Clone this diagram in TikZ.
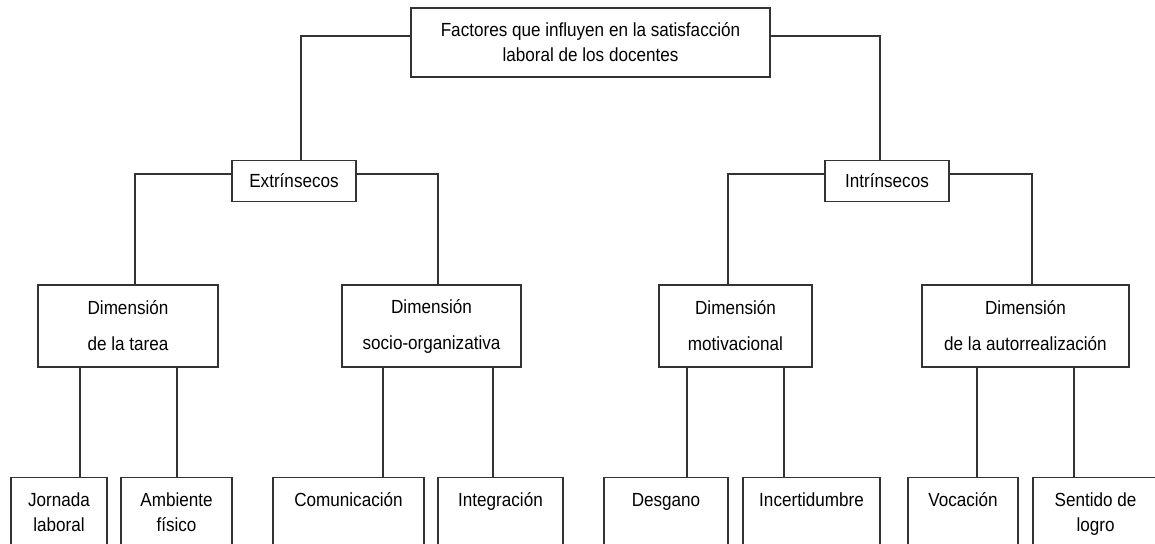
\documentclass[tikz,border=0pt]{standalone}
\usepackage{fontspec}
\setmainfont{Liberation Sans}[FakeStretch=0.9]
\usetikzlibrary{calc}

\tikzset{
	caja/.style={draw=black!80, line width=1.2pt, align=center, inner sep=0pt, font=\fontsize{19}{25}\selectfont},
	dimcaja/.style={caja, minimum height=82pt, font=\fontsize{19}{36}\selectfont},
	hoja/.style={caja, anchor=north, inner ysep=11.5pt, text depth=90pt},
	linea/.style={draw=black!80, line width=1.2pt},
}

\begin{document}
\begin{tikzpicture}[x=1pt, y=-1pt]
			%%%%% START %%%%%
			\useasboundingbox (0, 0) rectangle (1155, 543);
			
			\node[caja, minimum width=359pt, minimum height=69pt] (factores) at (590.5, 42.5) {Factores que influyen en la satisfacción\\laboral de los docentes};
			
			\node[caja, minimum width=124pt, minimum height=41pt] (extr) at (294, 181) {Extrínsecos};
			\node[caja, minimum width=124pt, minimum height=41pt] (intr) at (887, 181) {Intrínsecos};
			
			\node[dimcaja, minimum width=180pt] (tarea) at (128, 326) {Dimensión\\de la tarea};
			\node[dimcaja, minimum width=179pt] (socio) at (431.5, 326) {Dimensión\\socio-organizativa};
			\node[dimcaja, minimum width=153pt] (motiv) at (735.5, 326) {Dimensión\\motivacional};
			\node[dimcaja, minimum width=207pt] (autor) at (1025.5, 326) {Dimensión\\de la autorrealización};
			
			\node[hoja, minimum width=96pt] (jornada) at (59, 477) {\strut Jornada\\laboral};
			\node[hoja, minimum width=111pt] (ambiente) at (176.5, 477) {\strut Ambiente\\físico};
			\node[hoja, minimum width=151pt] (comunic) at (348.5, 477) {\strut Comunicación};
			\node[hoja, minimum width=125pt] (integr) at (500.5, 477) {\strut Integración};
			\node[hoja, minimum width=124pt] (desgano) at (666, 477) {\strut Desgano};
			\node[hoja, minimum width=137pt] (incert) at (811.5, 477) {\strut Incertidumbre};
			\node[hoja, minimum width=110pt] (vocac) at (963, 477) {\strut Vocación};
			\node[hoja, minimum width=125pt] (logro) at (1095.5, 477) {\strut Sentido de\\logro};
			
			% primer nivel
			\draw[linea] (factores.west |- 0,36) -| (301,0 |- extr.north);
			\draw[linea] (factores.east |- 0,36) -| (880,0 |- intr.north);
			
			% segundo nivel
			\draw[linea] (extr.west |- 0,174) -| (135,0 |- tarea.north);
			\draw[linea] (extr.east |- 0,174) -| (438,0 |- socio.north);
			\draw[linea] (intr.west |- 0,174) -| (728,0 |- motiv.north);
			\draw[linea] (intr.east |- 0,174) -| (1032,0 |- autor.north);
			
			% hojas
			\draw[linea] (80,0 |- tarea.south) -- (80,0 |- jornada.north);
			\draw[linea] (177,0 |- tarea.south) -- (177,0 |- ambiente.north);
			\draw[linea] (383,0 |- socio.south) -- (383,0 |- comunic.north);
			\draw[linea] (493,0 |- socio.south) -- (493,0 |- integr.north);
			\draw[linea] (687,0 |- motiv.south) -- (687,0 |- desgano.north);
			\draw[linea] (784,0 |- motiv.south) -- (784,0 |- incert.north);
			\draw[linea] (977,0 |- autor.south) -- (977,0 |- vocac.north);
			\draw[linea] (1074,0 |- autor.south) -- (1074,0 |- logro.north);
			
			%%%%% END %%%%%
\end{tikzpicture}
\end{document}
